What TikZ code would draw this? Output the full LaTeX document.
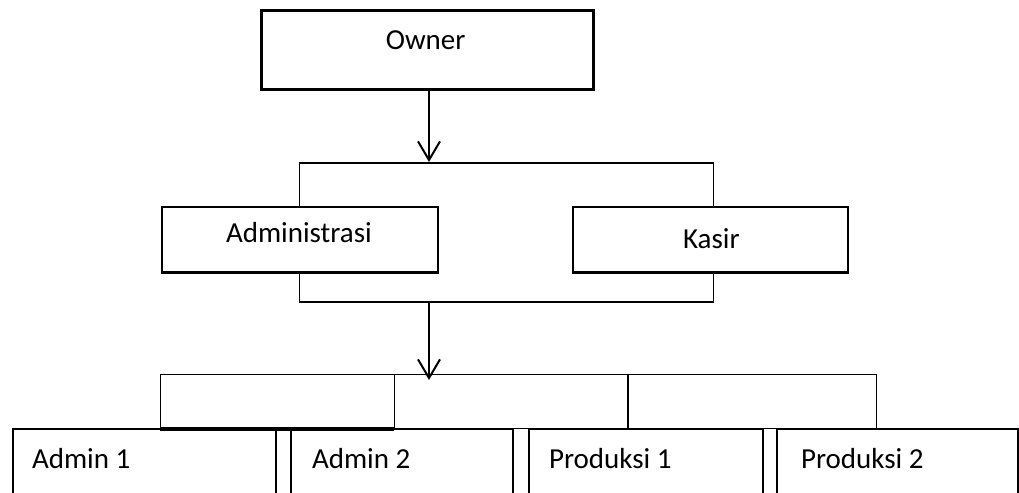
\documentclass[tikz,border=0pt]{standalone}
\usepackage{fontspec}
\setmainfont{Carlito}
\usetikzlibrary{arrows.meta,fit}
\begin{document}
\begin{tikzpicture}[x=0.75pt,y=-0.75pt,
  boxthick/.style={draw, line width=2.25pt, inner sep=0pt, outer sep=0pt},
  boxmid/.style={draw, line width=1.75pt, inner sep=0pt, outer sep=0pt},
  boxlow/.style={draw, line width=1.5pt, inner sep=0pt, outer sep=0pt},
  railbox/.style={draw, line width=0.9pt, inner sep=0pt, outer sep=0pt},
  thinline/.style={line width=0.9pt},
  railbottom/.style={line width=2.5pt},
  arrowline/.style={line width=1.5pt, -{Straight Barb[length=14pt,width=16.5pt,line width=1.5pt]}},
  lbl/.style={anchor=base west, inner sep=0pt, outer sep=0pt, font=\fontsize{21.75}{26}\selectfont}
]
\useasboundingbox (0,0) rectangle (1019,492);
\clip (0,0) rectangle (1019,492);

% boxes
\node[boxthick, fit={(261.5,10.8) (593.5,89.2)}] (own) {};
\node[boxmid, fit={(161.8,207.2) (437.8,272.5)}] (adm) {};
\node[boxmid, fit={(573.2,207.2) (847.8,272.5)}] (kas) {};

% rail
\node[railbox, fit={(160.3,374.5) (394.3,428.5)}] (r1) {};
\node[railbox, fit={(394.3,374.5) (628,428.5)}] (r2) {};
\node[railbox, fit={(628,374.5) (876.7,428.5)}] (r3) {};

% bottom boxes
\node[boxlow, fit={(13,428.5) (276.3,520)}] (a1) {};
\node[boxlow, fit={(291,428.5) (512.6,520)}] (a2) {};
\node[boxlow, fit={(528.6,428.5) (762.5,520)}] (p1) {};
\node[boxlow, fit={(776.5,428.5) (1017.8,520)}] (p2) {};

\draw[railbottom] ([yshift=-0.4pt]r1.south west) -- ([yshift=-0.4pt]r1.south east);

% brackets
\coordinate (bt) at (713.3,163);
\coordinate (bb) at (713.3,302);
\draw[thinline] (adm.north) |- (bt) -- (bt |- kas.north);
\draw[thinline] (adm.south) |- (bb) -- (bb |- kas.south);

% arrows
\coordinate (t1) at (429,162);
\coordinate (t2) at (429,380);
\draw[arrowline] (t1 |- own.south) -- (t1);
\draw[arrowline] (t2 |- bb) -- (t2);

% labels
\node[lbl] (tOwn) at (385.8,50) {Owner};
\node[lbl] (tAdm) at (226,242.3) {Administrasi};
\node[lbl] (tKas) at (683,248.3) {Kasir};
\node[lbl] (tA1) at (32,468) {Admin 1};
\node[lbl] (tA2) at (312,468) {Admin 2};
\node[lbl] (tP1) at (549,468) {Produksi 1};
\node[lbl] (tP2) at (801,468) {Produksi 2};
\end{tikzpicture}
\end{document}
